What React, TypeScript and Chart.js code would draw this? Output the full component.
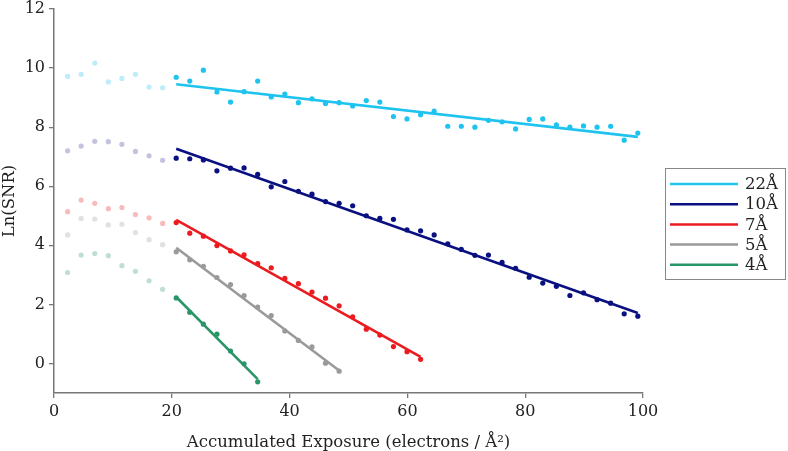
import React, { useEffect, useRef } from "react";
import { Chart, registerables } from "chart.js";

Chart.register(...registerables);

const exposure = [
  2.31, 4.61, 6.92, 9.22, 11.53, 13.83, 16.14, 18.44, 20.75, 23.05, 25.36, 27.66,
  29.97, 32.27, 34.58, 36.88, 39.19, 41.49, 43.8, 46.1, 48.41, 50.71, 53.02, 55.32,
  57.63, 59.93, 62.24, 64.54, 66.85, 69.15, 71.46, 73.76, 76.07, 78.37, 80.68, 82.98,
  85.29, 87.59, 89.9, 92.2, 94.51, 96.81, 99.12,
];

const snr22 = [
  9.72, 9.79, 10.17, 9.53, 9.65, 9.79, 9.36, 9.33,
  9.69, 9.56, 9.93, 9.19, 8.85, 9.2, 9.56, 9.02, 9.12, 8.83, 8.96, 8.8, 8.83, 8.72,
  8.9, 8.85, 8.36, 8.28, 8.42, 8.54, 8.03, 8.03, 8.0, 8.23, 8.18, 7.94, 8.26, 8.28,
  8.08, 8.0, 8.04, 8.0, 8.03, 7.56, 7.8,
];
const snr10 = [
  7.2, 7.36, 7.52, 7.51, 7.42, 7.18, 7.03, 6.88,
  6.95, 6.93, 6.89, 6.52, 6.61, 6.62, 6.4, 5.98, 6.16, 5.83, 5.73, 5.48, 5.42, 5.34,
  5.0, 4.91, 4.88, 4.52, 4.49, 4.35, 4.05, 3.86, 3.66, 3.67, 3.42, 3.22, 2.92, 2.72,
  2.61, 2.3, 2.39, 2.16, 2.04, 1.68, 1.6,
];
const snr7 = [
  5.14, 5.53, 5.42, 5.24, 5.28, 5.04, 4.93, 4.74,
  4.77, 4.41, 4.31, 3.99, 3.81, 3.68, 3.38, 3.24, 2.88, 2.7, 2.42, 2.21, 1.95, 1.58,
  1.16, 0.96, 0.57, 0.4, 0.14,
];
const snr5 = [
  4.35, 4.91, 4.89, 4.69, 4.71, 4.43, 4.19, 4.02,
  3.78, 3.51, 3.29, 2.91, 2.67, 2.3, 1.91, 1.62, 1.1, 0.78, 0.56, 0.01, -0.26,
];
const snr4 = [
  3.08, 3.67, 3.72, 3.65, 3.31, 3.12, 2.8, 2.51,
  2.22, 1.73, 1.33, 0.99, 0.42, -0.01, -0.62,
];

// fitted lines: [value at first fitted exposure, value at last exposure]
const fit22 = [9.45, 7.67];
const fit10 = [7.27, 1.71];
const fit7 = [4.86, 0.22];
const fit5 = [3.92, -0.24];
const fit4 = [2.25, -0.53];

const excludedFrames = 8; // first frames shown faded, not used in fit

const labels = ["22Å", "10Å", "7Å", "5Å", "4Å"];
const colors = ["#1ec3f0", "#0a1080", "#ec1b1f", "#9a9a9a", "#2a9566"];
const fadedColors = [
  "rgba(30,195,240,0.3)",
  "rgba(10,16,128,0.25)",
  "rgba(236,27,31,0.3)",
  "rgba(154,154,154,0.3)",
  "rgba(42,149,102,0.3)",
];

const xTicks = [0, 20, 40, 60, 80, 100];
const yTicks = [0, 2, 4, 6, 8, 10, 12];

const FONT = "'DejaVu Serif', serif";

const legendPlugin = {
  id: "boxLegend",
  afterDraw(chart: any) {
    const { ctx, chartArea } = chart;
    const x0 = chartArea.right + 22;
    const y0 = chartArea.top + 159;
    const w = 120;
    const rowH = 20.2;
    const h = rowH * labels.length + 10;
    ctx.save();
    ctx.fillStyle = "#fff";
    ctx.fillRect(x0, y0, w, h);
    ctx.strokeStyle = "#888";
    ctx.lineWidth = 1;
    ctx.strokeRect(x0 + 0.5, y0 + 0.5, w, h);
    ctx.font = "16.5px " + FONT;
    ctx.textBaseline = "middle";
    ctx.textAlign = "left";
    labels.forEach((lab, i) => {
      const yy = y0 + 16 + i * rowH;
      ctx.strokeStyle = colors[i];
      ctx.lineWidth = 2.5;
      ctx.beginPath();
      ctx.moveTo(x0 + 5, yy);
      ctx.lineTo(x0 + 73, yy);
      ctx.stroke();
      ctx.fillStyle = "#222";
      ctx.fillText(lab, x0 + 80, yy + 1);
    });
    ctx.restore();
  },
};

export default function App() {
  const ref = useRef<HTMLCanvasElement | null>(null);

  useEffect(() => {
    if (!ref.current) return;
    const series = [snr22, snr10, snr7, snr5, snr4];
    const fits = [fit22, fit10, fit7, fit5, fit4];
    const datasets: any[] = [];
    series.forEach((vals, i) => {
      datasets.push({
        type: "scatter",
        label: labels[i] + " points",
        data: vals.map((v, k) => ({ x: exposure[k], y: v })),
        pointRadius: 2.6,
        pointBorderWidth: 0,
        pointBackgroundColor: vals.map((_, k) => (k < excludedFrames ? fadedColors[i] : colors[i])),
        showLine: false,
        order: 2,
      });
      datasets.push({
        type: "line",
        label: labels[i],
        data: [
          { x: exposure[excludedFrames], y: fits[i][0] },
          { x: exposure[vals.length - 1], y: fits[i][1] },
        ],
        borderColor: colors[i],
        borderWidth: 2.6,
        pointRadius: 0,
        fill: false,
        order: 1,
      });
    });

    const chart = new Chart(ref.current, {
      type: "scatter",
      data: { datasets },
      plugins: [legendPlugin],
      options: {
        animation: false,
        responsive: false,
        layout: { padding: { top: 9, right: 145, left: 0, bottom: 0 } },
        plugins: { legend: { display: false }, tooltip: { enabled: false } },
        scales: {
          x: {
            type: "linear",
            min: 0,
            max: 100,
            afterBuildTicks: (s: any) => {
              s.ticks = xTicks.map((v) => ({ value: v }));
            },
            afterFit: (s: any) => {
              s.height = 58;
            },
            ticks: { font: { family: FONT, size: 16 }, color: "#222", padding: 4 },
            grid: { drawOnChartArea: false, drawTicks: true, tickLength: 5, color: "#777", lineWidth: 1.3 },
            border: { color: "#777", width: 1.5 },
            title: {
              display: true,
              text: "Accumulated Exposure (electrons / Å²)",
              font: { family: FONT, size: 16.5 },
              color: "#222",
              padding: { top: 0, bottom: -2 },
            },
          },
          y: {
            type: "linear",
            min: -1,
            max: 12,
            afterBuildTicks: (s: any) => {
              s.ticks = yTicks.map((v) => ({ value: v }));
            },
            afterFit: (s: any) => {
              s.width = 54;
              s.paddingTop = 0;
            },
            ticks: { font: { family: FONT, size: 16 }, color: "#222", padding: 4 },
            grid: { drawOnChartArea: false, drawTicks: true, tickLength: 5, color: "#777", lineWidth: 1.3 },
            border: { color: "#777", width: 1.5 },
            title: {
              display: true,
              text: "Ln(SNR)",
              font: { family: FONT, size: 16.5 },
              color: "#222",
              padding: { top: 0, bottom: 0 },
            },
          },
        },
      } as any,
    });
    return () => chart.destroy();
  }, []);

  return (
    <div style={{ position: "fixed", left: 0, top: 0, width: 788, height: 451, background: "#fff" }}>
      <canvas ref={ref} width={788} height={451} style={{ display: "block" }} />
    </div>
  );
}
